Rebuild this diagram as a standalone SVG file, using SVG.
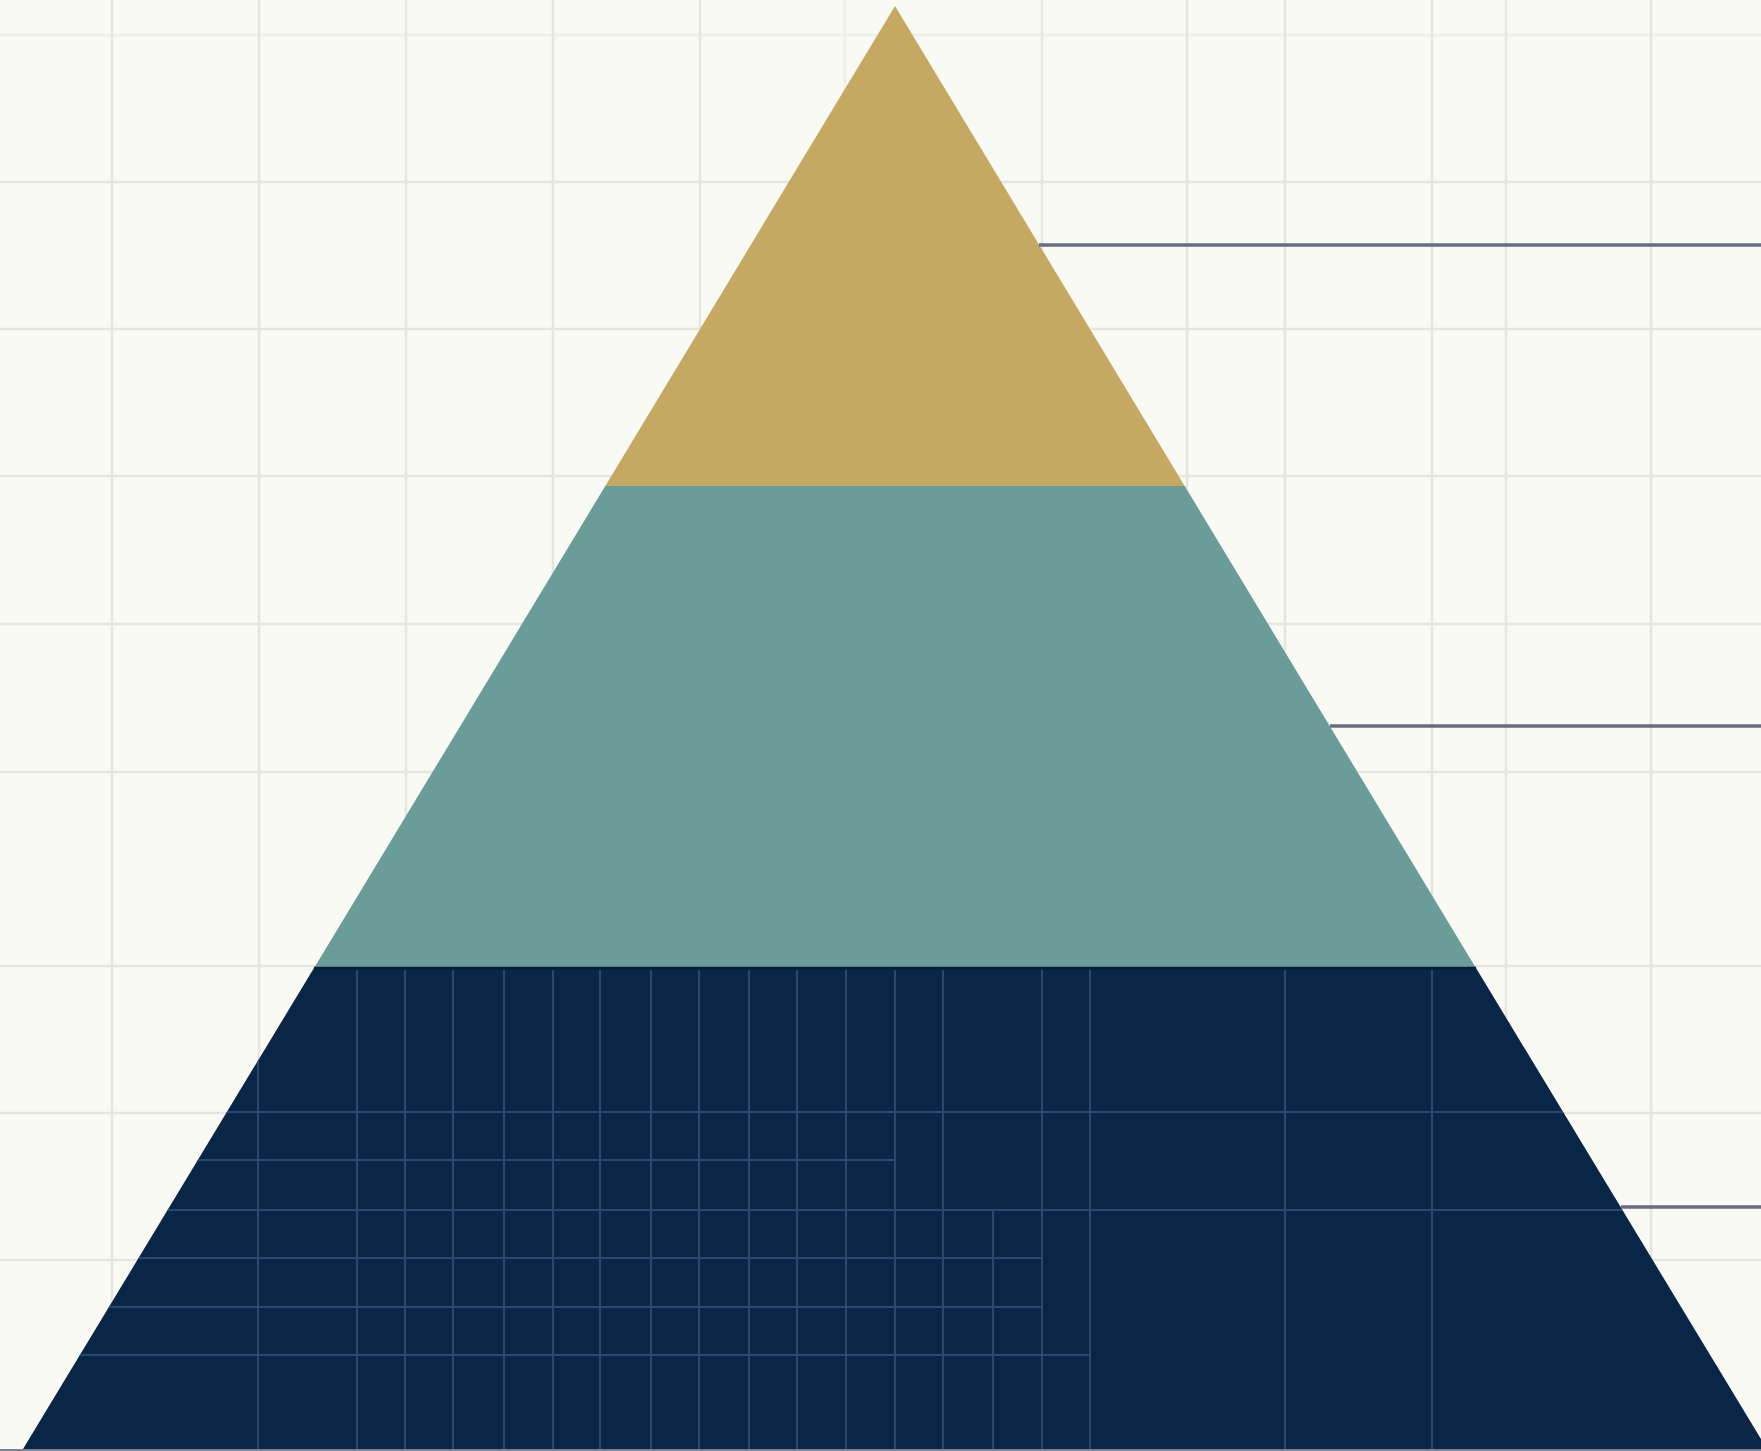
<svg xmlns="http://www.w3.org/2000/svg" width="1761" height="1451" viewBox="0 0 1761 1451">
  <style>
    .bg { fill: #fafaf5; }
    .grid line { stroke: #e6e6e0; stroke-width: 2.5; }
    .grid .faint { stroke: #f0f0eb; stroke-width: 3; }
    .ngrid line { stroke: #27496f; stroke-width: 2; }
    .gold { fill: #c5a963; }
    .teal { fill: #6a9c99; }
    .navy { fill: #0a2647; }
    .conn line { stroke: #6a6c82; stroke-width: 3.5; }
  </style>
  <defs>
    <clipPath id="navyClip">
      <polygon points="314.6,967 1475.4,967 1767,1449 23,1449"/>
    </clipPath>
  </defs>
  <rect class="bg" x="0" y="0" width="1761" height="1451"/>
  <g id="background-grid" class="grid">
    <line class="faint" x1="0" y1="35" x2="1761" y2="35"/>
    <line x1="0" y1="182" x2="1761" y2="182"/>
    <line x1="0" y1="329" x2="1761" y2="329"/>
    <line x1="0" y1="476" x2="1761" y2="476"/>
    <line x1="0" y1="624" x2="1761" y2="624"/>
    <line x1="0" y1="772" x2="1761" y2="772"/>
    <line x1="0" y1="966" x2="1761" y2="966"/>
    <line x1="0" y1="1113" x2="1761" y2="1113"/>
    <line x1="0" y1="1260" x2="1761" y2="1260"/>
    <line x1="112" y1="0" x2="112" y2="1451"/>
    <line x1="259" y1="0" x2="259" y2="1451"/>
    <line x1="406" y1="0" x2="406" y2="1451"/>
    <line x1="553" y1="0" x2="553" y2="1451"/>
    <line x1="700" y1="0" x2="700" y2="1451"/>
    <line class="faint" x1="845" y1="0" x2="845" y2="1451"/>
    <line x1="1042" y1="0" x2="1042" y2="1451"/>
    <line x1="1187" y1="0" x2="1187" y2="1451"/>
    <line x1="1285" y1="0" x2="1285" y2="1451"/>
    <line x1="1432" y1="0" x2="1432" y2="1451"/>
    <line x1="1506" y1="0" x2="1506" y2="1451"/>
    <line x1="1651" y1="0" x2="1651" y2="1451"/>
  </g>
  <g id="tier-top">
    <polygon class="gold" points="895,6 1185,486.5 605,486.5"/>
  </g>
  <g id="tier-middle">
    <polygon class="teal" points="605.3,486 1184.7,486 1475.6,967.5 314.4,967.5"/>
  </g>
  <g id="tier-bottom">
    <polygon class="navy" points="314.6,967 1475.4,967 1767,1449 23,1449"/>
    <line x1="314" y1="968" x2="1476" y2="968" stroke="#061c36" stroke-width="2.5"/>
    <g class="ngrid" clip-path="url(#navyClip)">
      <line x1="0" y1="1112" x2="1761" y2="1112"/>
      <line x1="0" y1="1160" x2="895" y2="1160"/>
      <line x1="0" y1="1210" x2="1761" y2="1210"/>
      <line x1="0" y1="1258" x2="1042" y2="1258"/>
      <line x1="0" y1="1307" x2="1042" y2="1307"/>
      <line x1="0" y1="1355" x2="1090" y2="1355"/>
      <line x1="258" y1="970" x2="258" y2="1449"/>
      <line x1="357" y1="970" x2="357" y2="1449"/>
      <line x1="405" y1="970" x2="405" y2="1449"/>
      <line x1="453" y1="970" x2="453" y2="1449"/>
      <line x1="504" y1="970" x2="504" y2="1449"/>
      <line x1="553" y1="970" x2="553" y2="1449"/>
      <line x1="600" y1="970" x2="600" y2="1449"/>
      <line x1="651" y1="970" x2="651" y2="1449"/>
      <line x1="699" y1="970" x2="699" y2="1449"/>
      <line x1="749" y1="970" x2="749" y2="1449"/>
      <line x1="797" y1="970" x2="797" y2="1449"/>
      <line x1="846" y1="970" x2="846" y2="1449"/>
      <line x1="895" y1="970" x2="895" y2="1449"/>
      <line x1="943" y1="970" x2="943" y2="1449"/>
      <line x1="993" y1="1211" x2="993" y2="1449"/>
      <line x1="1042" y1="970" x2="1042" y2="1449"/>
      <line x1="1090" y1="970" x2="1090" y2="1449"/>
      <line x1="1285" y1="970" x2="1285" y2="1449"/>
      <line x1="1432" y1="970" x2="1432" y2="1449"/>
    </g>
  </g>
  <line x1="0" y1="1450" x2="1761" y2="1450" stroke="#7b8290" stroke-width="2"/>
  <g id="connectors" class="conn">
    <line x1="1039" y1="245" x2="1761" y2="245"/>
    <line x1="1330" y1="726" x2="1761" y2="726"/>
    <line x1="1621" y1="1207" x2="1761" y2="1207"/>
  </g>
</svg>
